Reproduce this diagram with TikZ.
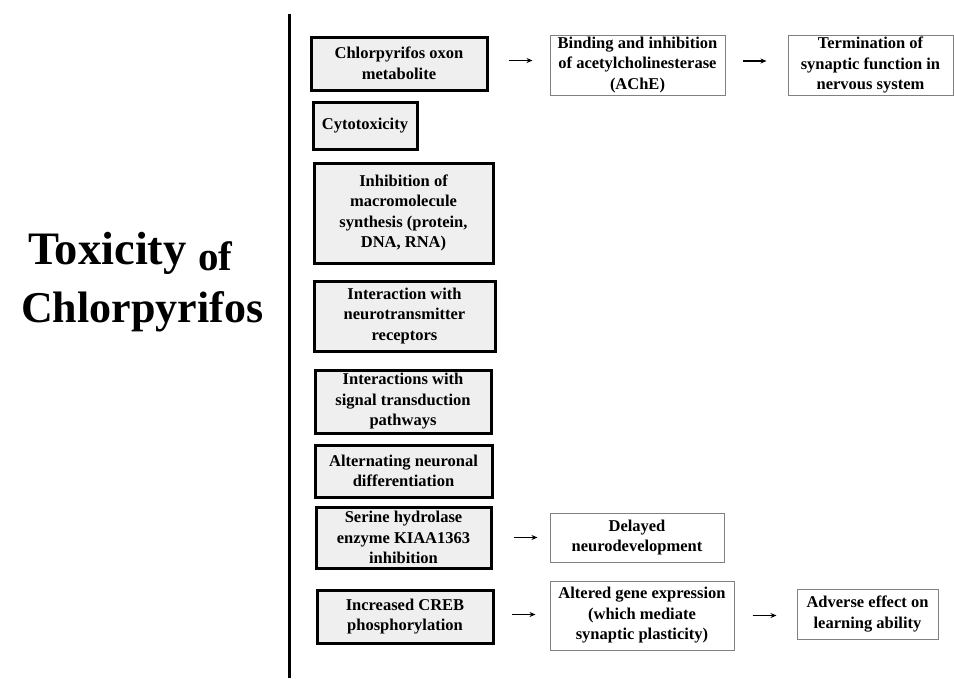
\documentclass[tikz,border=0pt]{standalone}
\usepackage{fontspec}
\setmainfont{Liberation Serif}
\usepackage{tikz}
\usetikzlibrary{arrows.meta}
\usepackage{xcolor}
\definecolor{boxfill}{HTML}{EFEFEF}
\definecolor{thinline}{HTML}{808080}

\begin{document}
\begin{tikzpicture}[
    x=1pt, y=-1pt,
    effect/.style={draw=black, line width=3pt, fill=boxfill, align=center, inner sep=0pt,
        font=\bfseries\fontsize{16.5}{20.5}\selectfont},
    outcome/.style={draw=thinline, line width=1pt, fill=white, align=center, inner sep=0pt,
        font=\bfseries\fontsize{16.5}{20.5}\selectfont},
    link/.style={-{Stealth[length=6pt,width=5pt]}, line width=1.5pt},
    heading/.style={anchor=base west, inner sep=0pt, font=\bfseries\fontsize{46.5}{46}\selectfont}
]
    \useasboundingbox[fill=white] (0,0) rectangle (954,678);

    % Title and divider
    \node[heading] (title1) at (28,264) {Toxicity {\fontsize{41}{41}\selectfont\raisebox{-6pt}{of}}};
    \node[heading, font=\bfseries\fontsize{44}{46}\selectfont] (title2) at (21,322) {Chlorpyrifos};
    \coordinate (top) at (289.5,14);
    \coordinate (bottom) at (289.5,678);
    \draw[line width=3pt] (top) -- (bottom);

    % Toxic effects
    \node[effect, minimum width=176pt, minimum height=53pt] (oxon) at (399,63.5) {Chlorpyrifos oxon\\metabolite};
    \node[effect, minimum width=104pt, minimum height=47pt] (cyto) at (365,125.5) {Cytotoxicity};
    \node[effect, minimum width=179pt, minimum height=100pt] (synth) at (403.5,213) {Inhibition of\\macromolecule\\synthesis (protein,\\DNA, RNA)};
    \node[effect, minimum width=181pt, minimum height=70pt] (recep) at (404.5,316) {Interaction with\\neurotransmitter\\receptors};
    \node[effect, minimum width=176pt, minimum height=63pt] (signal) at (403,401.5) {Interactions with\\signal transduction\\pathways};
    \node[effect, minimum width=177pt, minimum height=52pt] (neuron) at (403.5,471) {Alternating neuronal\\differentiation};
    \node[effect, minimum width=175pt, minimum height=61pt] (serine) at (403.5,537.5) {Serine hydrolase\\enzyme KIAA1363\\inhibition};
    \node[effect, minimum width=176pt, minimum height=53pt] (creb) at (405,616.5) {Increased CREB\\phosphorylation};

    % Consequences
    \node[outcome, minimum width=175pt, minimum height=60pt] (ache) at (637.5,65) {Binding and inhibition\\of acetylcholinesterase\\(AChE)};
    \node[outcome, minimum width=165pt, minimum height=60pt] (synapse) at (870.5,65) {Termination of\\synaptic function in\\nervous system};
    \node[outcome, minimum width=174pt, minimum height=49pt] (delay) at (637,537.5) {Delayed\\neurodevelopment};
    \node[outcome, minimum width=184pt, minimum height=69pt] (gene) at (642,615.5) {Altered gene expression\\(which mediate\\synaptic plasticity)};
    \node[outcome, minimum width=141pt, minimum height=50pt] (learn) at (867.5,614) {Adverse effect on\\learning ability};

    % Arrows
    \draw[link, shorten <=20pt, shorten >=17pt] ([yshift=3pt]oxon.east) -- ([yshift=3pt]oxon.east -| ache.west);
    \draw[link, shorten <=17pt, shorten >=21pt] ([yshift=4pt]ache.east) -- ([yshift=4pt]ache.east -| synapse.west);
    \draw[link, shorten <=21pt, shorten >=12pt] (serine.east) -- (serine.east -| delay.west);
    \draw[link, shorten <=17pt, shorten >=14pt] ([yshift=2pt]creb.east) -- ([yshift=2pt]creb.east -| gene.west);
    \draw[link, shorten <=18pt, shorten >=20pt] (gene.east) -- (gene.east -| learn.west);
\end{tikzpicture}
\end{document}
